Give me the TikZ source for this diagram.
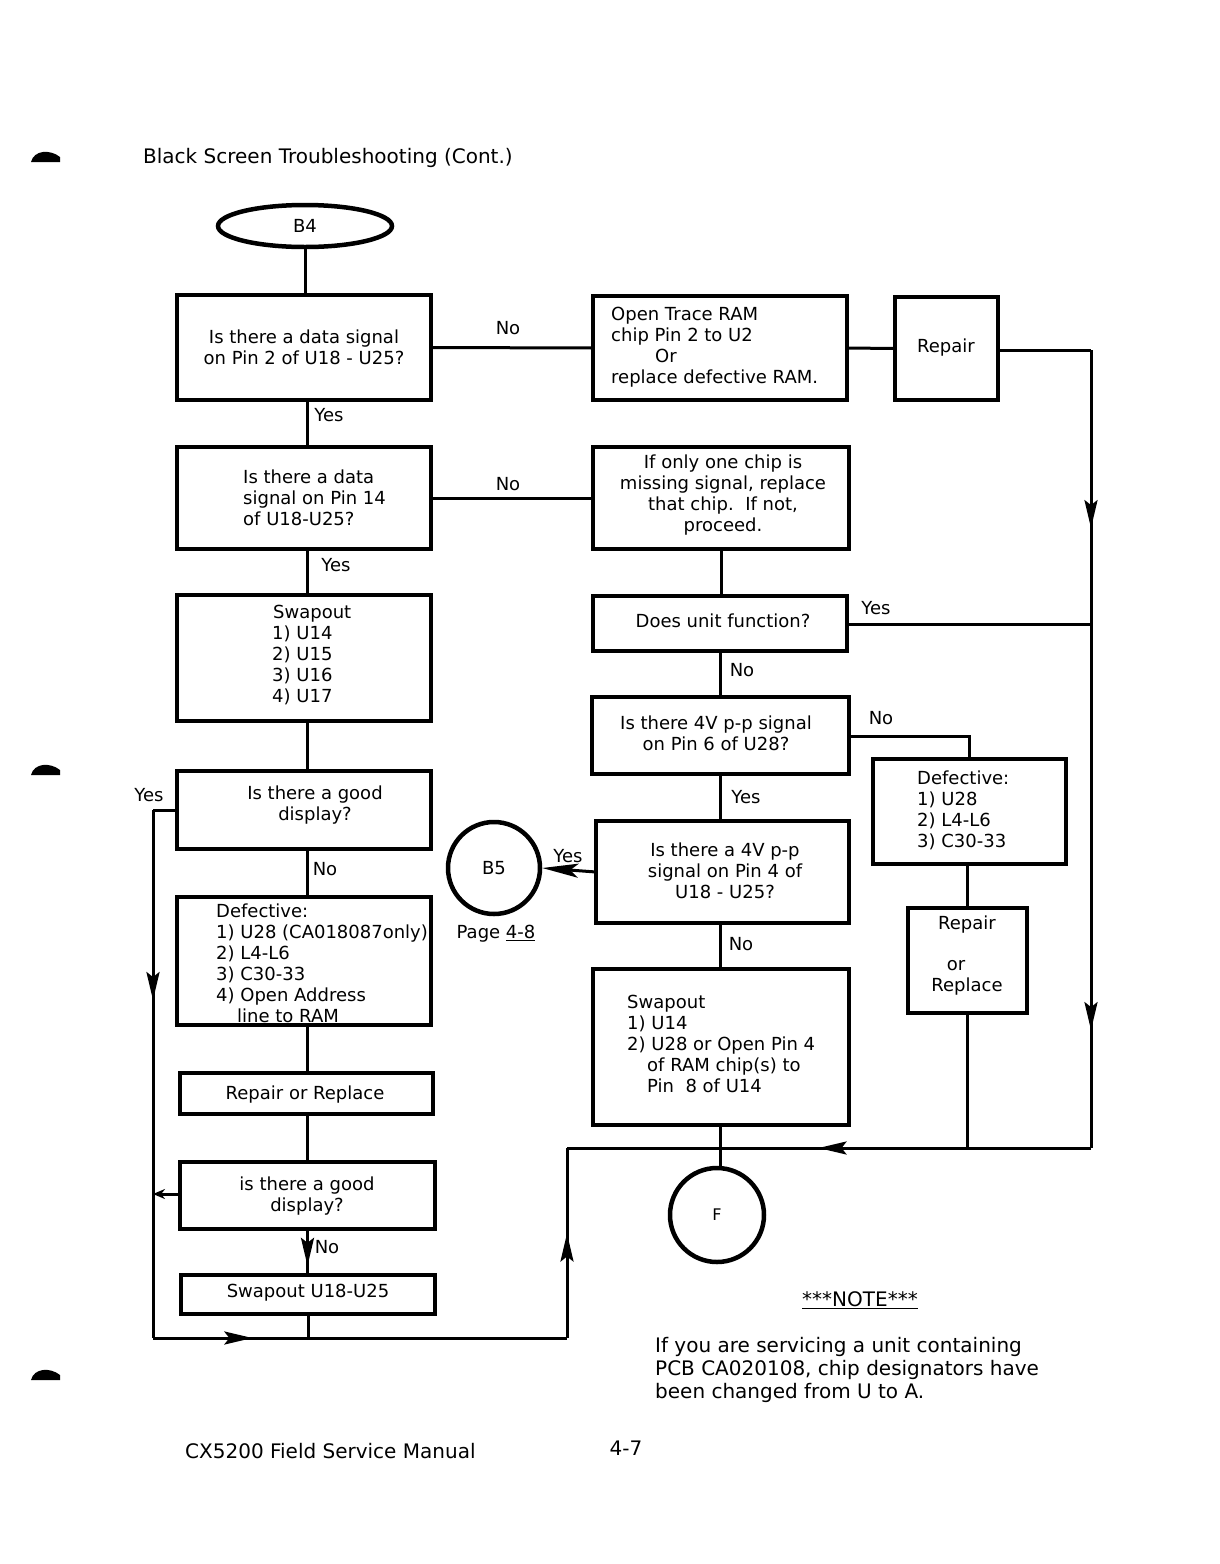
\documentclass[tikz,border=0pt]{standalone}
\usepackage{fontspec}
\setmainfont{DejaVu Sans}
\usetikzlibrary{arrows.meta,fit,decorations.markings,shapes.geometric,calc}
\newcommand\bxf{\fontsize{18}{21}\selectfont}
\newcommand\bigf{\fontsize{20}{23}\selectfont}
\begin{document}
\begin{tikzpicture}[x=1pt,y=-1pt,
  box/.style={draw, line width=4.5pt, inner sep=0pt, outer sep=0pt},
  conn/.style={line width=3pt},
  txt/.style={font=\bxf, align=center, inner sep=0pt},
  ltxt/.style={font=\bxf, align=left, inner sep=0pt, anchor=west},
  lbl/.style={font=\bxf, inner sep=0pt},
  arrowat/.style={postaction={decorate}, decoration={markings, mark=at position #1 with {\arrow{Stealth[length=28pt,width=13pt,inset=5pt]}}}},
  blob/.style={fill=black}
]
\useasboundingbox (0,0) rectangle (1220,1564);

% margin marks
\fill[blob] (31,162) .. controls (34,150) and (50,149) .. (60,157) -- (60,162) -- cycle;
\fill[blob] (31,775) .. controls (34,763) and (50,762) .. (60,770) -- (60,775) -- cycle;
\fill[blob] (31,1380) .. controls (34,1368) and (50,1367) .. (60,1375) -- (60,1380) -- cycle;

% title and footer
\node[font=\bigf, anchor=west, inner sep=0pt] (title) at (143,158) {Black Screen Troubleshooting (Cont.)};
\node[font=\bigf, anchor=west, inner sep=0pt] (foot) at (185,1451) {CX5200 Field Service Manual};
\node[font=\bigf, inner sep=0pt] (pg) at (626,1448) {4-7};

% start
\node[draw, ellipse, line width=4.5pt, minimum width=174pt, minimum height=42pt, inner sep=0pt, font=\bxf] (s4) at (305,226) {B4};

% left column boxes
\node[box, fit={(177,295) (431,400)}] (b1) {};
\node[box, fit={(177,447) (431,549)}] (b3) {};
\node[box, fit={(177,595) (431,721)}] (b5) {};
\node[box, fit={(177,771) (431,849)}] (b6) {};
\node[box, fit={(177,897) (431,1025)}] (d1) {};
\node[box, fit={(180,1073) (433,1114)}] (rr) {};
\node[box, fit={(180,1162) (435,1229)}] (b9) {};
\node[box, fit={(181,1275) (435,1314)}] (b10) {};

% right column boxes
\node[box, fit={(593,296) (847,400)}] (b2) {};
\node[box, fit={(895,297) (998,400)}] (rep) {};
\node[box, fit={(593,447) (849,549)}] (b4) {};
\node[box, fit={(593,596) (847,651)}] (dq) {};
\node[box, fit={(592,697) (849,774)}] (q6) {};
\node[box, fit={(596,821) (849,923)}] (q4) {};
\node[box, fit={(593,969) (849,1125)}] (sw) {};
\node[box, fit={(873,759) (1066,864)}] (d2) {};
\node[box, fit={(908,908) (1027,1013)}] (rr2) {};

% circles
\node[draw, circle, line width=4.5pt, minimum size=92pt, inner sep=0pt, font=\bxf] (c5) at (494,868) {B5};
\node[draw, circle, line width=4.5pt, minimum size=94pt, inner sep=0pt, font=\fontsize{16}{18}\selectfont] (cf) at (717,1215) {F};

% texts
\node[txt] (t1) at (304,347) {Is there a data signal\\on Pin 2 of U18 - U25?};
\node[ltxt] (t2) at (611,347) {Open Trace RAM\\chip Pin 2 to U2\\\hspace*{44pt}Or\\replace defective RAM.};
\node[txt] (trep) at (946,348) {Repair};
\node[ltxt] (t3) at (243,498) {Is there a data\\signal on Pin 14\\of U18-U25?};
\node[txt] (t4) at (723,495) {If only one chip is\\missing signal, replace\\that chip.\ \ If not,\\proceed.};
\node[ltxt] (t5) at (272,655) {\hspace*{1pt}Swapout\\1) U14\\2) U15\\3) U16\\4) U17};
\node[txt] (t6) at (315,805) {Is there a good\\display?};
\node[ltxt] (td1) at (216,963) {Defective:\\1) U28 (CA018087only)\\2) L4-L6\\3) C30-33\\4) Open Address\\\hspace*{21pt}line to RAM};
\node[txt] (trr) at (305,1095) {Repair or Replace};
\node[txt] (t9) at (307,1196) {is there a good\\display?};
\node[txt] (t10) at (308,1293) {Swapout U18-U25};
\node[txt] (tdq) at (723,621) {Does unit function?};
\node[txt] (tq6) at (716,733) {Is there 4V p-p signal\\on Pin 6 of U28?};
\node[txt] (tq4) at (725,871) {Is there a 4V p-p\\signal on Pin 4 of\\U18 - U25?};
\node[ltxt] (td2) at (917,810) {Defective:\\1) U28\\2) L4-L6\\3) C30-33};
\node[txt] (trr2) at (967,956) {Repair\\[20pt]\hspace*{-22pt}or\\Replace};
\node[ltxt] (tsw) at (627,1044) {Swapout\\1) U14\\2) U28 or Open Pin 4\\\hspace*{20pt}of RAM chip(s) to\\\hspace*{20pt}Pin\ \ 8 of U14};
\node[txt] (tpage) at (496,934) {Page \underline{4-8}};

% note
\node[font=\bigf, inner sep=0pt] (nt) at (860,1300) {\underline{***NOTE***}};
\node[font=\bigf, align=left, inner sep=0pt, anchor=west] (np) at (655,1370) {If you are servicing a unit containing\\PCB CA020108, chip designators have\\been changed from U to A.};

% coordinates
\coordinate (rtop) at (1091,350);
\coordinate (yesj) at (1091,624);
\coordinate (rbot) at (1091,1148);
\coordinate (hj) at (567,1148);
\coordinate (blr) at (567,1338);
\coordinate (bll) at (153,1338);
\coordinate (yl) at (153,810);
\coordinate (lj9) at (153,1194);

% connectors left
\draw[conn] (s4.south) -- (s4.south |- b1.north);
\draw[conn] (b1.east) -- (b2.west);
\draw[conn] (b2.east) -- (rep.west);
\draw[conn] ([xshift=3pt]b1.south) -- ([xshift=3pt]b1.south |- b3.north);
\draw[conn] (b3.east) -- (b4.west);
\draw[conn] ([xshift=3pt]b3.south) -- ([xshift=3pt]b3.south |- b5.north);
\draw[conn] ([xshift=3pt]b5.south) -- ([xshift=3pt]b5.south |- b6.north);
\draw[conn] ([xshift=3pt]b6.south) -- ([xshift=3pt]b6.south |- d1.north);
\draw[conn] ([xshift=3pt]d1.south) -- ([xshift=3pt]d1.south |- rr.north);
\draw[conn] ([xshift=1pt]rr.south) -- ([xshift=1pt]rr.south |- b9.north);
\draw[conn, arrowat=0.8] (b9.south) -- (b9.south |- b10.north);
\draw[conn] (b10.south) -- (b10.south |- bll);
\draw[conn] (b6.west |- yl) -- (yl);
\draw[conn, arrowat=0.36] (yl) -- (bll);
\draw[conn, -{Stealth[length=12pt,width=10pt]}] (b9.west |- lj9) -- (lj9);
\draw[conn, arrowat=0.24] (bll) -- (blr);
\draw[conn, arrowat=0.55] (blr) -- (hj);

% connectors right
\draw[conn] (rep.east |- rtop) -- (rtop);
\draw[conn, arrowat=0.65] (rtop) -- (yesj);
\draw[conn, arrowat=0.775] (yesj) -- (rbot);
\draw[conn, arrowat=0.52] (rbot) -- (hj);
\draw[conn] (dq.east |- yesj) -- (yesj);
\draw[conn] (b4.south) -- (b4.south |- dq.north);
\draw[conn] (dq.south) -- (dq.south |- q6.north);
\draw[conn] (q6.east |- 0,736) -| (d2.north);
\draw[conn] (d2.south -| rr2.north) -- (rr2.north);
\draw[conn] (rr2.south) -- (rr2.south |- hj);
\draw[conn] (q6.south -| dq.south) -- (dq.south |- q4.north);
\draw[conn, -{Stealth[length=36pt,width=14pt,inset=8pt]}] (q4.west) -- (c5.east);
\draw[conn] (dq.south |- q4.south) -- (dq.south |- sw.north);
\draw[conn] (dq.south |- sw.south) -- (dq.south |- cf.north);

% labels
\node[lbl] (l1) at (508,328) {No};
\node[lbl] (l2) at (329,415) {Yes};
\node[lbl] (l3) at (508,484) {No};
\node[lbl] (l4) at (336,565) {Yes};
\node[lbl] (l5) at (876,608) {Yes};
\node[lbl] (l6) at (742,670) {No};
\node[lbl] (l7) at (881,718) {No};
\node[lbl] (l8) at (149,795) {Yes};
\node[lbl] (l9) at (746,797) {Yes};
\node[lbl] (l10) at (325,869) {No};
\node[lbl] (l11) at (568,856) {Yes};
\node[lbl] (l12) at (741,944) {No};
\node[lbl] (l13) at (327,1247) {No};
\end{tikzpicture}
\end{document}
